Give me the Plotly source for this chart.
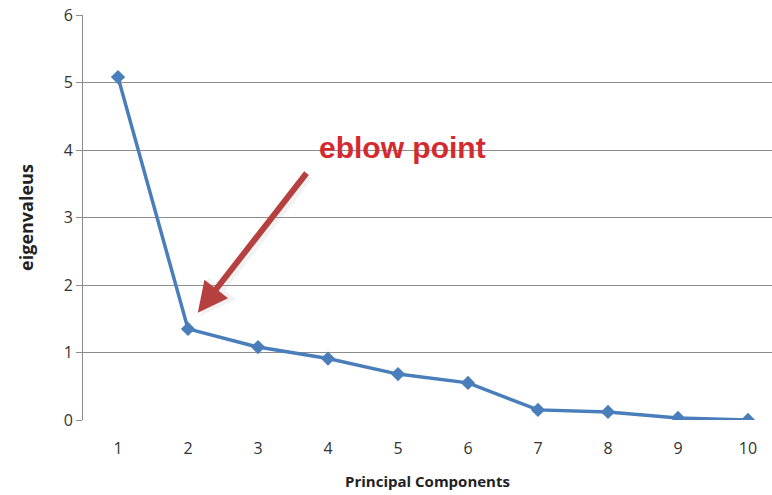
import plotly.graph_objects as go

# Scree plot: eigenvalue of each principal component
components = [1, 2, 3, 4, 5, 6, 7, 8, 9, 10]
eigenvalues = [5.08, 1.35, 1.08, 0.91, 0.68, 0.55, 0.15, 0.12, 0.03, 0.0]
y_ticks = [0, 1, 2, 3, 4, 5, 6]

elbow_label = "eblow point"
elbow_index = 1  # second component

fig = go.Figure()
fig.add_trace(go.Scatter(
    x=components,
    y=eigenvalues,
    mode="lines+markers",
    line=dict(color="#4a7ebb", width=3.5),
    marker=dict(symbol="diamond", size=11, color="#4a7ebb"),
    showlegend=False,
    hoverinfo="x+y",
))

tip_x = components[elbow_index] + 0.14
tip_y = eigenvalues[elbow_index] + 0.24

# faint shadow under the arrow
fig.add_annotation(
    x=tip_x + 0.04, y=tip_y - 0.05, ax=tip_x + 1.61, ay=tip_y + 2.04,
    xref="x", yref="y", axref="x", ayref="y",
    text="", showarrow=True, arrowhead=2, arrowsize=1.0, arrowwidth=7,
    arrowcolor="rgba(170,170,170,0.15)",
)
fig.add_annotation(
    x=tip_x, y=tip_y, ax=tip_x + 1.57, ay=tip_y + 2.09,
    xref="x", yref="y", axref="x", ayref="y",
    text="", showarrow=True, arrowhead=2, arrowsize=1.0, arrowwidth=6,
    arrowcolor="#b5403f",
)
fig.add_annotation(
    x=5.06, y=4.04, xref="x", yref="y",
    text="<b>" + elbow_label + "</b>", showarrow=False,
    font=dict(family="Liberation Sans, Arial", size=30, color="#d42a2f"),
)

fig.update_layout(
    width=772, height=495,
    margin=dict(l=83, r=0, t=15, b=75),
    paper_bgcolor="white", plot_bgcolor="white",
    font=dict(family="Open Sans, sans-serif", color="#333333"),
    xaxis=dict(
        range=[0.5, 10.343],
        tickmode="array", tickvals=components,
        ticktext=[str(c) for c in components],
        tickfont=dict(size=16, color="#333333"),
        ticklabelstandoff=17,
        showgrid=False, zeroline=False,
        showline=False, ticks="",
        title=dict(text="<b>Principal Components</b>",
                   font=dict(size=15, color="#222222"), standoff=18),
    ),
    yaxis=dict(
        range=[0, 6],
        tickmode="array", tickvals=y_ticks,
        tickfont=dict(size=16, color="#333333"),
        showgrid=True, gridcolor="#8c8c8c", gridwidth=1,
        zeroline=False,
        showline=True, linecolor="#8c8c8c", linewidth=1,
        ticks="outside", ticklen=6, tickcolor="#8c8c8c",
        title=dict(text="<b>eigenvaleus</b>",
                   font=dict(size=18, color="#222222"), standoff=25),
    ),
)

fig.write_html("out.html")
